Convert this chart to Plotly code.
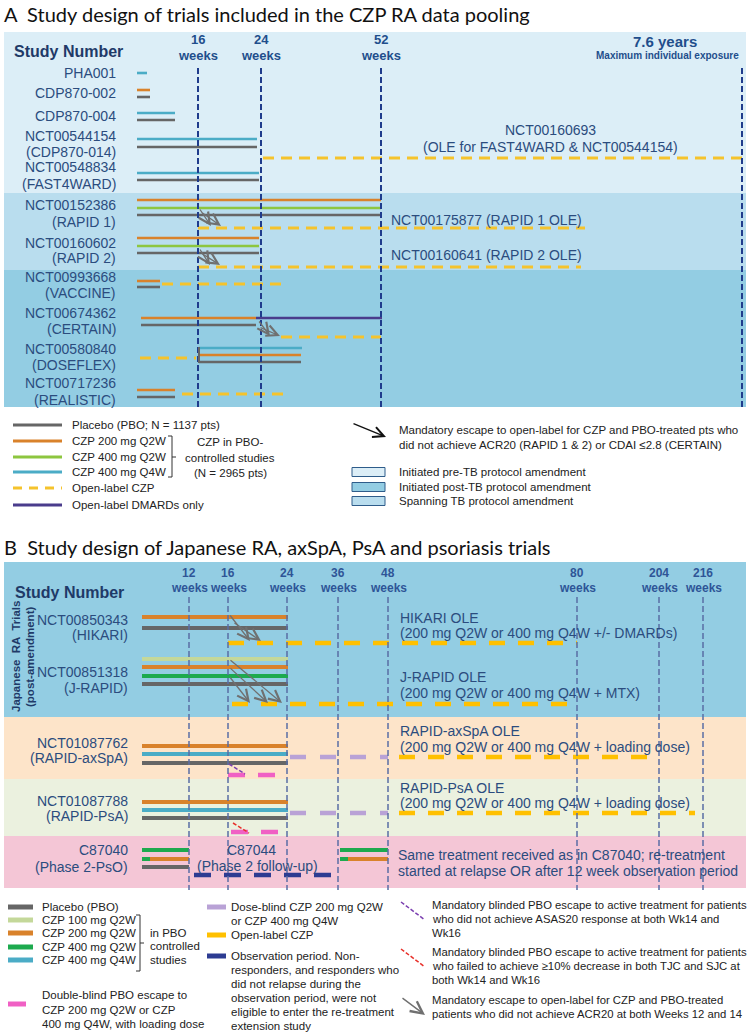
import plotly.graph_objects as go

W, H = 750, 1032

# ---------------- colours ----------------
COL = {
    "pbo": "#666666", "z100": "#C4D89A", "z200": "#D9822B", "z400q2": "#8DC63F",
    "z400q2b": "#1DAA4E", "z400q4": "#4BACC6", "ole": "#F5C32C", "oleb": "#FFC000",
    "dmard": "#4A3C8C", "dose": "#B9A2D6", "esc": "#F060C4", "obs": "#2D3C92",
}
NAVY = "#2B4C7E"
TICKC = "#1F4E8C"

# ---------------- panel A data ----------------
A_LABELS = ["PHA001", "CDP870-002", "CDP870-004", "NCT00544154", "(CDP870-014)",
            "NCT00548834", "(FAST4WARD)", "NCT00152386", "(RAPID 1)", "NCT00160602",
            "(RAPID 2)", "NCT00993668", "(VACCINE)", "NCT00674362", "(CERTAIN)",
            "NCT00580840", "(DOSEFLEX)", "NCT00717236", "(REALISTIC)"]
A_LABEL_Y = [73, 93, 116, 136, 152, 167, 184, 205, 222, 243, 258, 277, 293, 313, 329, 349, 365, 383, 400]
A_TICK_X = [198, 261, 381]
A_TICK_NUM = ["16", "24", "52"]
A_END_X = 742
A_BANDS = [(32, 193, "#DCEEF7"), (193, 270, "#B9DDEE"), (270, 407, "#93CDE3")]
# (series, row y, start, end) in schematic position units
A_SEGMENTS = [
    ("z400q4", 73, 137, 147),
    ("z200", 90, 137, 150), ("pbo", 97, 137, 150),
    ("z400q4", 113, 137, 175), ("pbo", 120, 137, 175),
    ("z400q4", 139, 137, 257), ("pbo", 147, 137, 257), ("ole", 158, 263, 742),
    ("z400q4", 173, 137, 259), ("pbo", 180, 137, 259),
    ("z200", 200, 137, 381), ("z400q2", 208, 137, 381), ("pbo", 215, 137, 381), ("ole", 228, 198, 585),
    ("z200", 238, 137, 259), ("z400q2", 246, 137, 259), ("pbo", 253, 137, 259), ("ole", 267, 198, 581),
    ("z200", 281, 137, 160), ("pbo", 287, 137, 160), ("ole", 284, 162, 287),
    ("z200", 318, 141, 256), ("dmard", 318, 256, 382), ("pbo", 325, 141, 256), ("ole", 337, 281, 381),
    ("ole", 358, 140, 196), ("z400q4", 348, 199, 302), ("z200", 355, 199, 301), ("pbo", 362, 199, 301),
    ("z200", 390, 137, 175), ("pbo", 397, 137, 175), ("ole", 394, 182, 285),
]
A_ARROWS = [  # tail x, tail y, head x, head y
    (199, 208, 211, 226), (201, 212, 221, 226),
    (199, 248, 210, 265), (201, 253, 220, 265),
    (258, 320, 270, 336), (259, 327, 280, 336),
]
A_OLE_TEXT = [("NCT00160693", 550, 130, "center"),
              ("(OLE for FAST4WARD & NCT00544154)", 550, 147, "center"),
              ("NCT00175877 (RAPID 1 OLE)", 389, 220, "left"),
              ("NCT00160641 (RAPID 2 OLE)", 389, 255, "left")]
A_LEG_ITEMS = [("pbo", "Placebo (PBO; N = 1137 pts)", 425), ("z200", "CZP 200 mg Q2W", 441),
               ("z400q2", "CZP 400 mg Q2W", 457), ("z400q4", "CZP 400 mg Q4W", 472),
               ("ole", "Open-label CZP", 488), ("dmard", "Open-label DMARDs only", 505)]
A_LEG_BOXES = [("#DCEEF7", "Initiated pre-TB protocol amendment", 472),
               ("#93CDE3", "Initiated post-TB protocol amendment", 487),
               ("#B9DDEE", "Spanning TB protocol amendment", 501)]

# ---------------- panel B data ----------------
B_LABELS = ["NCT00850343", "(HIKARI)", "NCT00851318", "(J-RAPID)", "NCT01087762", "(RAPID-axSpA)",
            "NCT01087788", "(RAPID-PsA)", "C87040", "(Phase 2-PsO)"]
B_LABEL_Y = [620, 635, 672, 688, 743, 758, 801, 816, 850, 867]
B_TICK_X = [189, 228, 287, 338, 388, 577, 659, 703]
B_TICK_NUM = ["12", "16", "24", "36", "48", "80", "204", "216"]
B_BANDS = [(562, 717, "#93CDE3"), (717, 779, "#FDE4C9"), (779, 836, "#EBF1DF"), (836, 888, "#F4C6D6")]
B_SEGMENTS = [
    ("z200", 617, 142, 288), ("pbo", 628, 142, 288), ("oleb", 643, 228, 577),
    ("z100", 659, 142, 288), ("z200", 667, 142, 288), ("z400q2b", 676, 142, 288), ("pbo", 684, 142, 288),
    ("oleb", 704, 232, 577),
    ("z200", 746, 142, 288), ("z400q4", 754, 142, 288), ("pbo", 763, 142, 288),
    ("dose", 757, 290, 388), ("oleb", 757, 399, 659), ("esc", 775, 228, 278),
    ("z200", 802, 142, 288), ("z400q4", 810, 142, 288), ("pbo", 818, 142, 288),
    ("dose", 813, 290, 388), ("oleb", 813, 399, 695), ("esc", 832, 231, 281),
    ("z400q2b", 850, 142, 189), ("z400q2b", 859, 142, 150), ("z200", 859, 150, 189), ("pbo", 867, 142, 189),
    ("obs", 875, 194, 336),
    ("z400q2b", 850, 340, 388), ("z400q2b", 859, 340, 348), ("z200", 859, 348, 388),
]
B_ARROWS = [
    ("pbo", 229, 614, 250, 641), ("pbo", 233, 622, 261, 641),
    ("pbo", 229, 659, 282, 703), ("pbo", 229, 667, 268, 703), ("pbo", 229, 676, 250, 703),
]
B_DASH_ARROWS = [("#7B3FB0", 229, 764, 245, 774), ("#E8302A", 233, 823, 249, 833)]
B_OLE_TEXT = [("HIKARI OLE", 618), ("(200 mg Q2W or 400 mg Q4W +/- DMARDs)", 633),
              ("J-RAPID OLE", 677), ("(200 mg Q2W or 400 mg Q4W + MTX)", 693),
              ("RAPID-axSpA OLE", 731), ("(200 mg Q2W or 400 mg Q4W + loading dose)", 747),
              ("RAPID-PsA OLE", 788), ("(200 mg Q2W or 400 mg Q4W + loading dose)", 803)]
B_LEG_LEFT = [("pbo", "Placebo (PBO)", 907), ("z100", "CZP 100 mg Q2W", 920), ("z200", "CZP 200 mg Q2W", 933),
              ("z400q2b", "CZP 400 mg Q2W", 947), ("z400q4", "CZP 400 mg Q4W", 960)]
B_LEG_ESC = ["Double-blind PBO escape to", "CZP 200 mg Q2W or CZP", "400 mg Q4W, with loading dose"]
B_LEG_MID = [("dose", ["Dose-blind CZP 200 mg Q2W", "or CZP 400 mg Q4W"], 907),
             ("oleb", ["Open-label CZP"], 935),
             ("obs", ["Observation period. Non-", "responders, and responders who", "did not relapse during the",
                      "observation period, were not", "eligible to enter the re-treatment", "extension study"], 956)]
B_LEG_ARROWS = [("#7B3FB0", True, ["Mandatory blinded PBO escape to active treatment for patients",
                                   "who did not achieve ASAS20 response at both Wk14 and", "Wk16"], 905),
                ("#E8302A", True, ["Mandatory blinded PBO escape to active treatment for patients",
                                   "who failed to achieve \u226510% decrease in both TJC and SJC at",
                                   "both Wk14 and Wk16"], 952),
                ("#707070", False, ["Mandatory escape to open-label for CZP and PBO-treated",
                                    "patients who did not achieve ACR20 at both Weeks 12 and 14"], 1000)]

# ---------------- build ----------------
fig = go.Figure()
shapes, annots = [], []
LAB = "Liberation Sans"


def txt(s, x, y, size=14, color=NAVY, xanchor="left", bold=False, family=LAB, angle=0):
    if bold:
        s = "<b>" + s + "</b>"
    annots.append(dict(x=x, y=y, xref="x", yref="y", text=s, showarrow=False, xanchor=xanchor,
                       yanchor="middle", textangle=angle, font=dict(size=size, color=color, family=family)))


DASHSTYLE = {"ole": ("11px,7px", 3), "oleb": ("16px,13px", 4.5), "dose": ("16px,14px", 4.5),
             "esc": ("17px,13px", 4.5), "obs": ("17px,13px", 4.5)}


def add_segments(segs, width):
    series = []
    for s, *_ in segs:
        if s not in series:
            series.append(s)
    for s in series:
        xs, ys = [], []
        for ss, y, x0, x1 in segs:
            if ss == s:
                xs += [x0, x1, None]
                ys += [y, y, None]
        dash, w = DASHSTYLE.get(s, ("solid", width))
        fig.add_trace(go.Scatter(x=xs, y=ys, mode="lines", hoverinfo="skip",
                                 line=dict(color=COL[s], width=w, dash=dash)))


def arrow(x0, y0, x1, y1, color, width=1.3, size=1.7):
    annots.append(dict(x=x1, y=y1, ax=x0, ay=y0, xref="x", yref="y", axref="x", ayref="y", text="",
                       showarrow=True, arrowhead=5, arrowsize=size, arrowwidth=width, arrowcolor=color,
                       standoff=0))


def dash_arrow(x0, y0, x1, y1, color):
    fig.add_trace(go.Scatter(x=[x0, x1], y=[y0, y1], mode="lines", hoverinfo="skip",
                             line=dict(color=color, width=1.5, dash="4px,2px")))
    fx = x1 - (x1 - x0) * 0.15
    fy = y1 - (y1 - y0) * 0.15
    arrow(fx, fy, x1, y1, color, 1.5, 1.9)


# titles
TITLE_FONT = "Lato"
txt("A  Study design of trials included in the CZP RA data pooling", 2, 14, 20, "#111111", family=TITLE_FONT)
txt("B  Study design of Japanese RA, axSpA, PsA and psoriasis trials", 2, 547, 20, "#111111", family=TITLE_FONT)

# ---- Panel A ----
for y0, y1, c in A_BANDS:
    shapes.append(dict(type="rect", x0=4, x1=746, y0=y0, y1=y1, xref="x", yref="y",
                       fillcolor=c, line=dict(width=0), layer="below"))
for x in A_TICK_X + [A_END_X]:
    shapes.append(dict(type="line", x0=x, x1=x, y0=68, y1=407, xref="x", yref="y",
                       line=dict(color="#1F3C8C", width=2, dash="6px,3px"), layer="above"))
txt("Study Number", 12, 51, 16, "#1F3A68", bold=True)
for x, n in zip(A_TICK_X, A_TICK_NUM):
    txt(n, x, 39, 13, TICKC, "center", True)
    txt("weeks", x, 55, 13, TICKC, "center", True)
txt("7.6 years", 665, 41, 15, TICKC, "center", True)
txt("Maximum individual exposure", 667, 55, 10, TICKC, "center", True)
for s, y in zip(A_LABELS, A_LABEL_Y):
    txt(s, 118, y, 14, NAVY, "right")
add_segments(A_SEGMENTS, 2.6)
shapes.append(dict(type="line", x0=199, x1=199, y0=347, y1=363, xref="x", yref="y",
                   line=dict(color=COL["pbo"], width=2)))
for x0, y0, x1, y1 in A_ARROWS:
    arrow(x0, y0, x1, y1, "#707070")
for s, x, y, a in A_OLE_TEXT:
    txt(s, x, y, 14, NAVY, a)

# legend A
for s, label, y in A_LEG_ITEMS:
    dash = "9px,7px" if s == "ole" else "solid"
    fig.add_trace(go.Scatter(x=[13, 62], y=[y, y], mode="lines", hoverinfo="skip",
                             line=dict(color=COL[s], width=3, dash=dash)))
    txt(label, 70, y, 11.5, "#222222")
shapes.append(dict(type="path", path="M 168 436 L 172 436 L 172 477 L 168 477 M 172 457 L 176 457",
                   xref="x", yref="y", line=dict(color="#333333", width=1)))
for s, y in [("CZP in PBO-", 442), ("controlled studies", 458), ("(N = 2965 pts)", 473)]:
    txt(s, 230, y, 11.5, "#222222", "center")
arrow(352, 423, 386, 437, "#111111", 1.4, 1.5)
txt("Mandatory escape to open-label for CZP and PBO-treated pts who", 397, 430, 11.5, "#222222")
txt("did not achieve ACR20 (RAPID 1 & 2) or CDAI \u22642.8 (CERTAIN)", 397, 445, 11.5, "#222222")
for c, label, y in A_LEG_BOXES:
    shapes.append(dict(type="rect", x0=352, x1=385, y0=y - 4.5, y1=y + 4.5, xref="x", yref="y",
                       fillcolor=c, line=dict(color="#2E5C8A", width=1)))
    txt(label, 397, y, 11.5, "#222222")

# ---- Panel B ----
for y0, y1, c in B_BANDS:
    shapes.append(dict(type="rect", x0=4, x1=746, y0=y0, y1=y1, xref="x", yref="y",
                       fillcolor=c, line=dict(width=0), layer="below"))
for x in B_TICK_X:
    shapes.append(dict(type="line", x0=x, x1=x, y0=597, y1=890, xref="x", yref="y",
                       line=dict(color="#5A6EA5", width=1.5, dash="6px,3px"), layer="above"))
txt("Study Number", 13, 592, 16, "#1F3A68", bold=True)
for x, n in zip(B_TICK_X, B_TICK_NUM):
    txt(n, x, 573, 12, "#2E5597", "center", True)
    txt("weeks", x, 588, 12, "#2E5597", "center", True)
txt("Japanese  RA  Trials", 16, 657, 11.5, "#1F3A68", "center", True, angle=-90)
txt("(post-amendment)", 30, 657, 11.5, "#1F3A68", "center", True, angle=-90)
for s, y in zip(B_LABELS, B_LABEL_Y):
    txt(s, 130, y, 14, NAVY, "right")
add_segments(B_SEGMENTS, 4)
for s, x0, y0, x1, y1 in B_ARROWS:
    arrow(x0, y0, x1, y1, "#707070")
for c, x0, y0, x1, y1 in B_DASH_ARROWS:
    dash_arrow(x0, y0, x1, y1, c)
for s, y in B_OLE_TEXT:
    txt(s, 398, y, 14, NAVY)
txt("C87044", 251, 850, 14, NAVY, "center")
txt("(Phase 2 follow-up)", 257, 866, 14, NAVY, "center")
txt("Same treatment received as in C87040; re-treatment", 396, 855, 14, NAVY)
txt("started at relapse OR after 12 week observation period", 396, 871, 14, NAVY)

# legend B
LEGF = 11.5
for s, label, y in B_LEG_LEFT:
    shapes.append(dict(type="rect", x0=8, x1=33, y0=y - 2.5, y1=y + 2.5, xref="x", yref="y",
                       fillcolor=COL[s], line=dict(width=0)))
    txt(label, 40, y, LEGF, "#222222")
shapes.append(dict(type="path", path="M 136 915 L 140 915 L 140 971 L 136 971 M 140 943 L 144 943",
                   xref="x", yref="y", line=dict(color="#333333", width=1)))
for s, y in [("in PBO", 933), ("controlled", 946), ("studies", 960)]:
    txt(s, 148, y, LEGF, "#222222")
shapes.append(dict(type="rect", x0=8, x1=26, y0=1001.5, y1=1006.5, xref="x", yref="y",
                   fillcolor=COL["esc"], line=dict(width=0)))
for i, s in enumerate(B_LEG_ESC):
    txt(s, 40, 995 + 14.5 * i, LEGF, "#222222")
for s, lines, y in B_LEG_MID:
    shapes.append(dict(type="rect", x0=207, x1=226, y0=y - 2.5, y1=y + 2.5, xref="x", yref="y",
                       fillcolor=COL[s], line=dict(width=0)))
    for i, t in enumerate(lines):
        txt(t, 229, y + 14 * i, LEGF, "#222222")
for c, dashed, lines, y in B_LEG_ARROWS:
    if dashed:
        dash_arrow(401, y - 3, 425, y + 15, c)
    else:
        arrow(401, y - 3, 425, y + 15, c, 1.4, 1.7)
    for i, t in enumerate(lines):
        txt(t, 430, y + 14 * i, 11.3, "#222222")

fig.update_layout(
    width=W, height=H, margin=dict(l=0, r=0, t=0, b=0),
    paper_bgcolor="white", plot_bgcolor="white", showlegend=False,
    xaxis=dict(range=[0, W], visible=False, fixedrange=True),
    yaxis=dict(range=[H, 0], visible=False, fixedrange=True),
    shapes=shapes, annotations=annots,
)
fig.write_html("out.html", config={"displayModeBar": False},
               post_script="document.body.style.margin='0';document.body.style.overflow='hidden';")
